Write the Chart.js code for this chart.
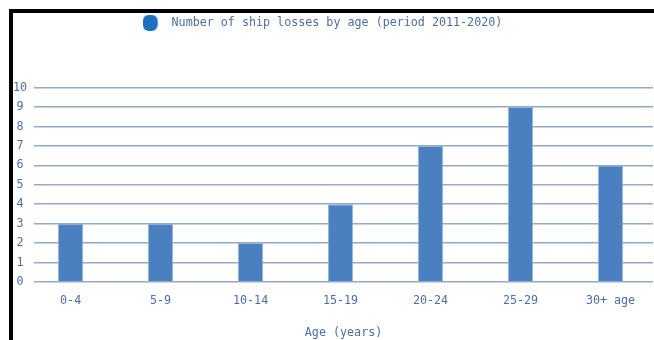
<!DOCTYPE html>
<html>
<head>
<meta charset="utf-8">
<script src="https://cdn.jsdelivr.net/npm/chart.js@4/dist/chart.umd.min.js"></script>
<style>
  html, body { margin: 0; padding: 0; background: #fff; }
  #wrap { position: relative; width: 654px; height: 340px; }
  #frame {
    position: absolute; left: 9px; top: 9px; right: 0; bottom: 0;
    border-left: 4px solid #000; border-top: 4px solid #000;
    pointer-events: none;
  }
</style>
</head>
<body>
<div id="wrap">
  <canvas id="c" width="654" height="340"></canvas>
  <div id="frame"></div>
</div>
<script>
// Ship losses per vessel age band, 2011-2020
const ageGroups = ['0-4', '5-9', '10-14', '15-19', '20-24', '25-29', '30+ age'];
const losses = [3, 3, 2, 4, 7, 9, 6];
const yTicks = [0, 1, 2, 3, 4, 5, 6, 7, 8, 9, 10];

const seriesName = 'Number of ship losses by age (period 2011-2020)';
const xTitle = 'Age (years)';

const textColor = '#4d6f9f';
const swatchColor = '#1f6fbf';
const font = { family: '"DejaVu Sans Mono", "Liberation Mono", monospace', size: 11.7 };

// legend swatch: a rounded block with some trailing space before the text
function makeSwatch() {
  const cv = document.createElement('canvas');
  cv.width = 23; cv.height = 16;
  const g = cv.getContext('2d');
  g.fillStyle = swatchColor;
  g.beginPath();
  g.roundRect(0, 0, 15, 16, 6);
  g.fill();
  return cv;
}
const swatch = makeSwatch();

// extra room between the legend row and the plot; legend row nudged left
const legendTweaks = {
  id: 'legendTweaks',
  beforeInit(chart) {
    const lg = chart.legend;
    const fit = lg.fit;
    lg.fit = function () {
      fit.call(this);
      this.height += 49;
    };
    const draw = lg.draw;
    lg.draw = function () {
      const ctx = this.ctx;
      ctx.save();
      ctx.translate(-7, 0);
      draw.call(this);
      ctx.restore();
    };
  }
};

new Chart(document.getElementById('c'), {
  type: 'bar',
  data: {
    datasets: [{
      label: seriesName,
      data: losses.map((v, i) => ({ x: i, y: v })),
      backgroundColor: '#4a7fc0',
      borderColor: 'rgba(140,175,220,0.9)',
      borderWidth: 1,
      categoryPercentage: 1,
      barPercentage: 0.28
    }]
  },
  options: {
    responsive: false,
    animation: false,
    layout: { padding: { top: 3, left: 6, right: 1, bottom: 0 } },
    plugins: {
      legend: {
        display: true,
        position: 'top',
        labels: {
          color: textColor,
          font: font,
          usePointStyle: true,
          pointStyleWidth: 23,
          boxHeight: 16,
          padding: 14,
          generateLabels: () => [{
            text: seriesName,
            pointStyle: swatch,
            fillStyle: swatchColor,
            strokeStyle: swatchColor,
            lineWidth: 0,
            datasetIndex: 0,
            fontColor: textColor
          }]
        }
      },
      tooltip: { enabled: false }
    },
    scales: {
      x: {
        type: 'linear',
        offset: false,
        min: -0.406,
        max: 6.472,
        border: { display: false },
        grid: { display: false, drawTicks: false, offset: false },
        afterBuildTicks: s => { s.ticks = ageGroups.map((_, i) => ({ value: i })); },
        ticks: {
          color: textColor,
          font: font,
          padding: 12,
          maxRotation: 0,
          autoSkip: false,
          callback: v => ageGroups[v]
        },
        title: {
          display: true,
          text: xTitle,
          color: textColor,
          font: font,
          padding: { top: 6, bottom: 0 }
        }
      },
      y: {
        min: 0,
        max: 10,
        z: 1,
        border: { display: false },
        grid: {
          color: 'rgba(40,85,145,0.5)',
          lineWidth: 1.6,
          drawTicks: false
        },
        afterBuildTicks: s => { s.ticks = yTicks.map(v => ({ value: v })); },
        ticks: {
          color: textColor,
          font: font,
          padding: 7,
          crossAlign: 'center'
        }
      }
    }
  },
  plugins: [legendTweaks]
});
</script>
</body>
</html>
